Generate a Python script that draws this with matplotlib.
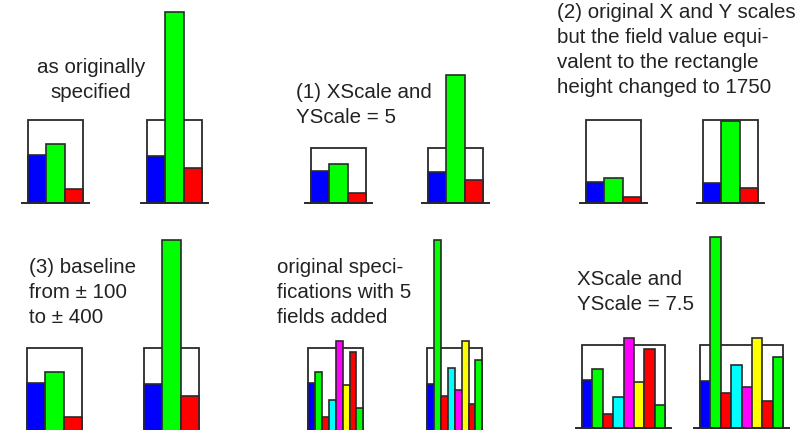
import numpy as np
import matplotlib
matplotlib.use('Agg')
import matplotlib.pyplot as plt
from matplotlib.patches import Rectangle

# field values read from the glyphs (rectangle = 750 in the original spec)
campos3_esq = [435, 533, 130]
campos3_dir = [425, 1730, 316]
campos8_esq = [434, 533, 127, 276, 813, 415, 712, 210]
campos8_dir = [425, 1730, 316, 567, 375, 813, 240, 640]
cores = ['#0000ff', '#00ff00', '#ff0000', '#00ffff', '#ff00ff', '#ffff00', '#ff0000', '#00ff00']

# per panel settings
textos = [
    ['as originally', 'specified'],
    ['(1) XScale and', 'YScale = 5'],
    ['(2) original X and Y scales', 'but the field value equi-',
     'valent to the rectangle', 'height changed to 1750'],
    ['(3) baseline', 'from \u00b1 100', 'to \u00b1 400'],
    ['original speci-', 'fications with 5', 'fields added'],
    ['XScale and', 'YScale = 7.5'],
]
xscale = [5, 5, 5, 5, 5, 7.5]
yscale = [7.5, 5, 7.5, 7.5, 7.5, 7.5]
valor_retangulo = [750, 750, 1750, 750, 750, 750]
n_campos = [3, 3, 3, 3, 8, 8]

# layout (pixels)
W, H = 809, 430
px_por_escala = 83 / 7.5
glifo_x = [(28, 147), (311, 428), (586, 703), (27, 144), (308, 427), (582, 700)]
base_y = [203, 203, 203, 431, 431, 428]
texto_x = [91, 296, 557, 29, 277, 577]
texto_y = [73, 98, 18, 273, 273, 285]
texto_ha = ['center', 'left', 'left', 'left', 'left', 'left']

fig = plt.figure(figsize=(W / 100, H / 100), dpi=100)
cor_linha = '#2a2a2a'

for p in range(6):
    n = n_campos[p]
    R = valor_retangulo[p]
    larg = xscale[p] * px_por_escala
    alt = yscale[p] * px_por_escala
    for g, valores in enumerate([campos3_esq, campos3_dir] if n == 3 else [campos8_esq, campos8_dir]):
        x0 = glifo_x[p][g]
        ax = fig.add_axes([x0 / W, 1 - base_y[p] / H, larg / W, alt / H])
        ax.set_xlim(0, n)
        ax.set_ylim(0, R)
        ax.axis('off')
        ax.add_patch(Rectangle((0, 0), n, R, fill=False, ec=cor_linha, lw=1.3, clip_on=False, zorder=1))
        ax.bar(np.arange(n) + 0.5, valores[:n], width=1, color=cores[:n], edgecolor=cor_linha,
               linewidth=1.2, clip_on=False, zorder=2)
        ext = 6 / (larg / n)
        ax.plot([-ext, n + ext], [0, 0], color=cor_linha, lw=1.4, clip_on=False, zorder=3)
    for i, linha in enumerate(textos[p]):
        fig.text(texto_x[p] / W, 1 - (texto_y[p] + 25 * i) / H, linha, ha=texto_ha[p], va='baseline',
                 fontsize=14.8, family='Liberation Sans', color='#222222')

fig.savefig('out.png', dpi=100)
